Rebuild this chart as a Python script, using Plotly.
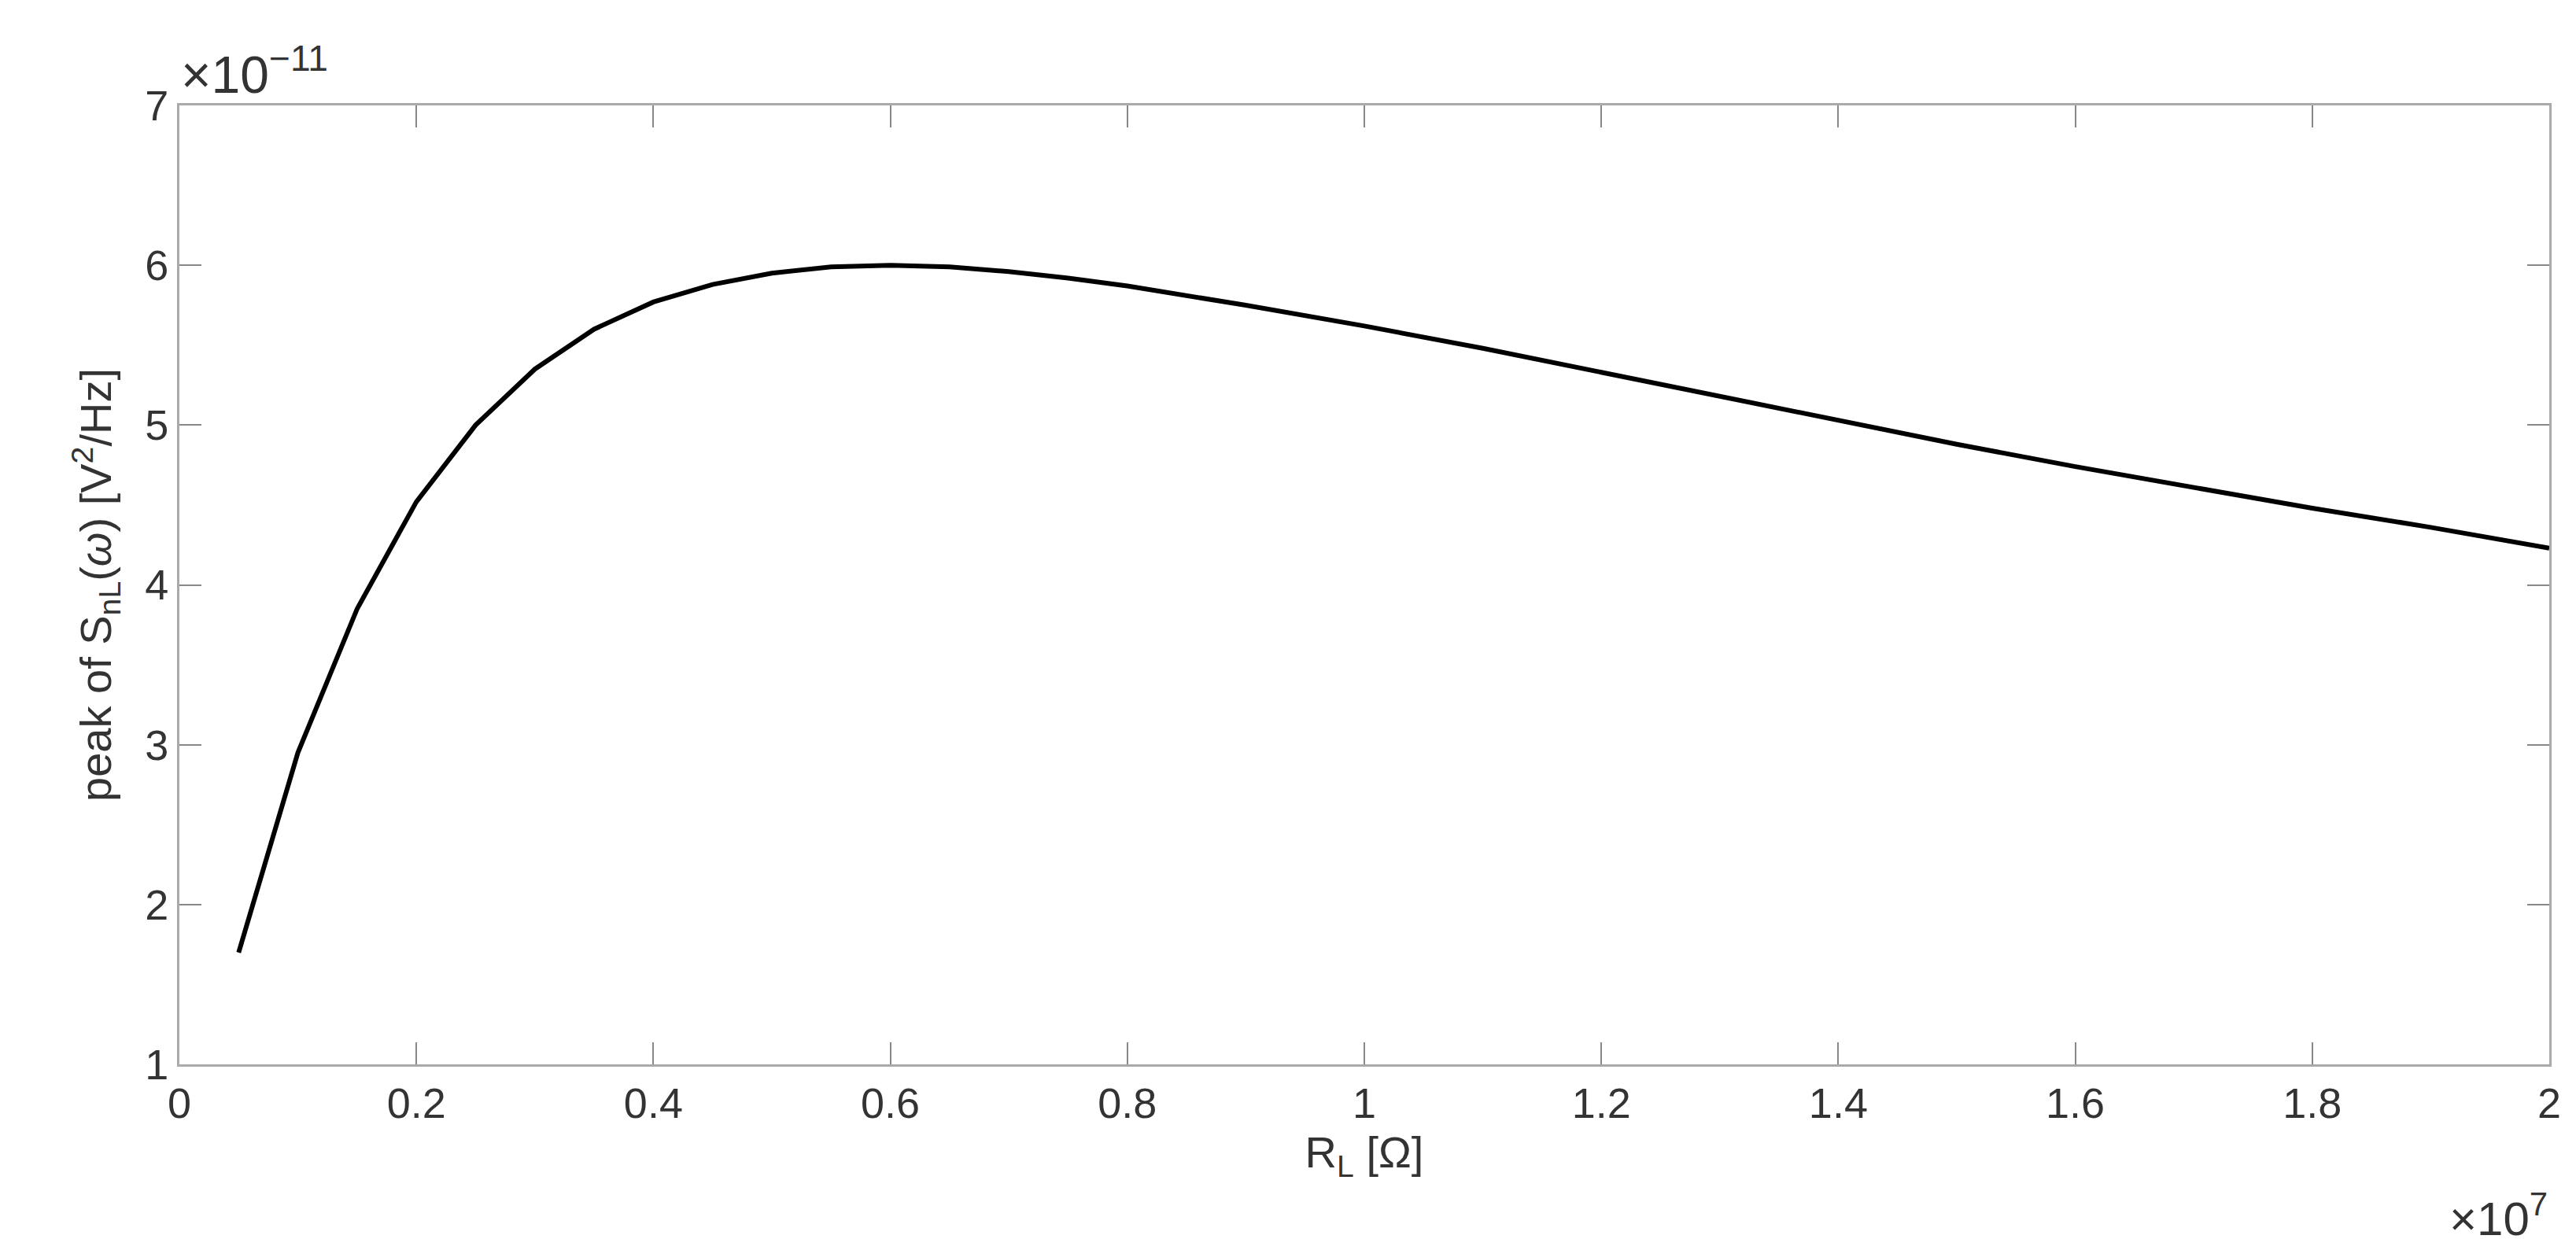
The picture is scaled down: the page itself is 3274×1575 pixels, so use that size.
import plotly.graph_objects as go

RL = [0.05,0.1,0.15,0.2,0.25,0.3,0.35,0.4,0.45,0.5,0.55,0.6,0.65,0.7,0.75,0.8,0.9,1.0,1.1,1.2,1.3,1.4,1.5,1.6,1.7,1.8,1.9,2.0]
S = [1.7,2.95,3.85,4.52,5.0,5.35,5.6,5.77,5.88,5.95,5.99,6.0,5.99,5.96,5.92,5.87,5.75,5.62,5.48,5.33,5.18,5.03,4.88,4.74,4.61,4.48,4.36,4.23]

F = "Liberation Sans"
fig = go.Figure(go.Scatter(x=RL, y=S, mode="lines", line=dict(color="black", width=6)))
ax = dict(showgrid=False, zeroline=False, showline=True, linecolor="#aaaaaa", linewidth=3, mirror="ticks",
          ticks="inside", ticklen=28, tickcolor="#888888", tickwidth=2,
          tickfont=dict(family=F, size=54, color="#333333"))
fig.update_xaxes(range=[0,2], dtick=0.2, tickformat="~g", **ax,
                 title=dict(text="R<sub>L</sub> [Ω]", font=dict(family=F, size=56, color="#333333"), standoff=15))
fig.update_yaxes(range=[1,7], dtick=1, **ax,
                 title=dict(text="peak of S<sub>nL</sub>(<i>ω</i>) [V<sup>2</sup>/Hz]", font=dict(family=F, size=56, color="#333333"), standoff=25))
fig.add_annotation(xref="paper", yref="paper", x=0, y=1, xanchor="left", yanchor="bottom", showarrow=False,
                   text="×10<sup>−11</sup>", font=dict(family=F, size=66, color="#333333"))
fig.add_annotation(xref="paper", yref="paper", x=1, y=-0.125, xanchor="right", yanchor="top", showarrow=False,
                   text="×10<sup>7</sup>", font=dict(family=F, size=60, color="#333333"))
fig.update_layout(width=3274, height=1575, plot_bgcolor="white", paper_bgcolor="white", showlegend=False,
                  margin=dict(l=220, r=42, t=126, b=230))
fig.write_html("out.html")
